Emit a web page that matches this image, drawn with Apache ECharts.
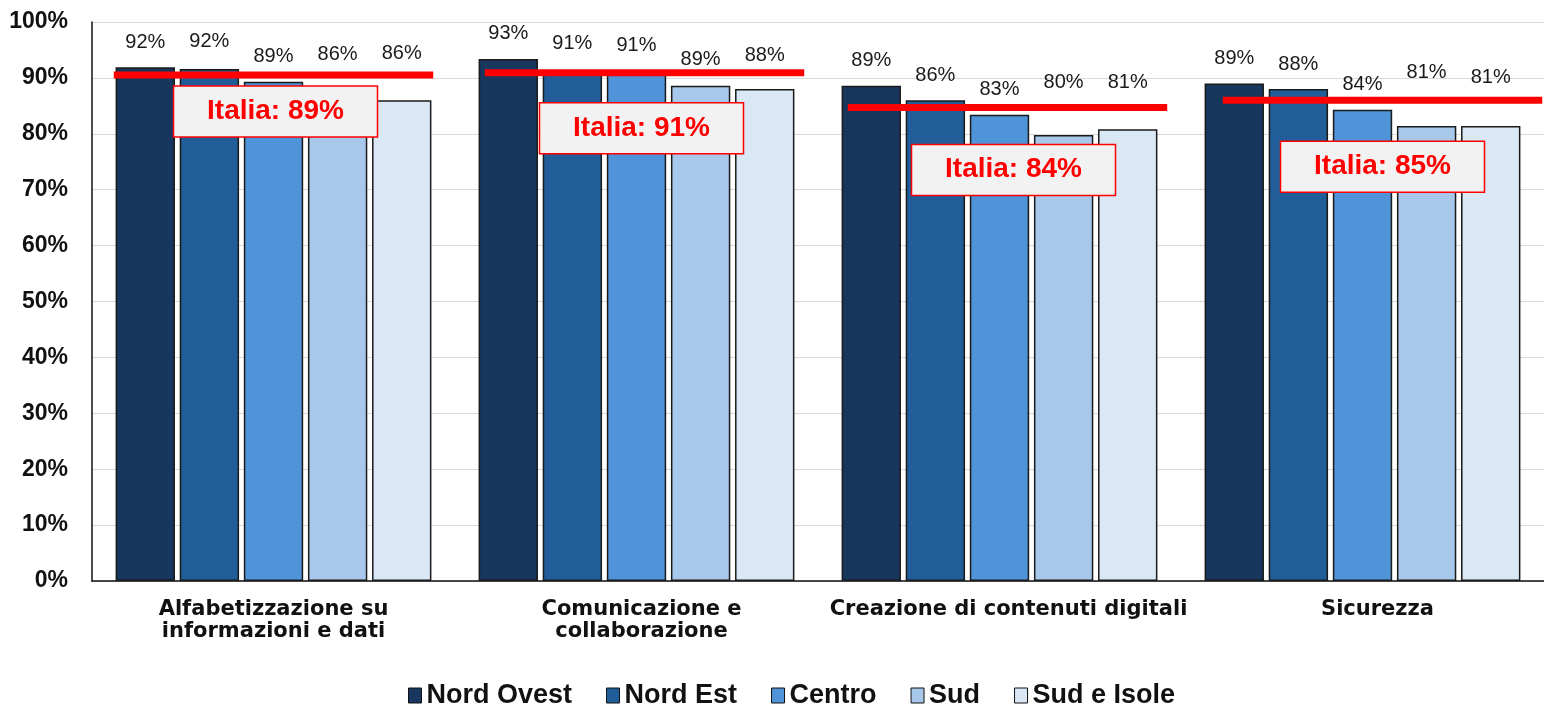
<!DOCTYPE html>
<html>
<head>
<meta charset="utf-8">
<script src="https://cdn.jsdelivr.net/npm/echarts@6/dist/echarts.min.js"></script>
<style>
  html, body { margin: 0; padding: 0; background: #fff; }
  #chart { width: 1544px; height: 709px; }
</style>
</head>
<body>
<div id="chart"></div>
<script>
const categories = [
  'Alfabetizzazione su\ninformazioni e dati',
  'Comunicazione e\ncollaborazione',
  'Creazione di contenuti digitali',
  'Sicurezza'
];
const seriesNames = ['Nord Ovest', 'Nord Est', 'Centro', 'Sud', 'Sud e Isole'];
const nordOvest = [91.9, 93.4, 88.6, 89.0];
const nordEst = [91.6, 91.2, 86.0, 88.0];
const centro = [89.3, 91.0, 83.4, 84.3];
const sud = [86.2, 88.6, 79.8, 81.4];
const sudIsole = [86.0, 88.0, 80.8, 81.4];
// Italia: value printed in the box, and the level where the red line sits
const italia = [89, 91, 84, 85];
const italiaLine = [90.5, 90.9, 84.7, 86.0];
const yTicks = { min: 0, max: 100, interval: 10 };

const colors = ['#17375e', '#215e99', '#4f94d8', '#a7c8ea', '#dae8f6'];
const seriesValues = [nordOvest, nordEst, centro, sud, sudIsole];

// layout tweaks (pixels), kept apart from the data
const labelLift = [
  [0, 0, 0, 0],
  [2, 3, 0, 0],
  [0, 2, 0, 0],
  [20, 1, 27, 28],
  [22, 9, 22, 23]
];
const lineShift = [0, 8, 8, 20];
const boxOffset = [[2, 36], [5, 55], [14, 62], [20, 66]];
const catShift = [0, 5, 9, 15];

const chart = echarts.init(document.getElementById('chart'));

const barSeries = seriesNames.map(function (name, s) {
  return {
    name: name,
    type: 'bar',
    barGap: '8%',
    barCategoryGap: '13%',
    itemStyle: { color: colors[s], borderColor: '#1a1a1a', borderWidth: 1.5 },
    label: {
      show: true,
      position: 'top',
      color: '#1a1a1a',
      fontSize: 20,
      fontFamily: 'Liberation Sans, Arial',
      formatter: function (p) { return Math.round(p.value) + '%'; }
    },
    data: seriesValues[s].map(function (v, i) {
      return { value: v, label: { distance: 15 + labelLift[s][i] } };
    })
  };
});

const italiaSeries = {
  name: 'Italia',
  type: 'custom',
  z: 5,
  clip: false,
  encode: { x: 0, y: 1 },
  data: italiaLine.map(function (v, i) { return [i, v]; }),
  renderItem: function (params, api) {
    const i = params.dataIndex;
    const p = api.coord([api.value(0), api.value(1)]);
    const band = api.size([1, 0])[0];
    const half = band * 0.44;
    const cx = p[0] + lineShift[i];
    const bx = p[0] + boxOffset[i][0];
    const by = p[1] + boxOffset[i][1];
    return {
      type: 'group',
      children: [
        {
          type: 'line',
          shape: { x1: cx - half, y1: p[1], x2: cx + half, y2: p[1] },
          style: { stroke: '#ff0000', lineWidth: 7 }
        },
        {
          type: 'rect',
          shape: { x: bx - 102, y: by - 25, width: 204, height: 51 },
          style: { fill: '#f2f2f2', stroke: '#ff0000', lineWidth: 1.5 }
        },
        {
          type: 'text',
          x: bx,
          y: by,
          style: {
            text: 'Italia: ' + italia[i] + '%',
            fill: '#ff0000',
            font: 'bold 28px "Liberation Sans", Arial',
            align: 'center',
            verticalAlign: 'middle'
          }
        }
      ]
    };
  }
};

const option = {
  animation: false,
  grid: { left: 92, right: 0, top: 22, bottom: 128 },
  legend: {
    data: seriesNames,
    left: 403,
    top: 677,
    icon: 'rect',
    itemWidth: 13,
    itemHeight: 15,
    itemGap: 34,
    textStyle: { fontSize: 27, fontWeight: 'bold', color: '#111', fontFamily: 'Liberation Sans, Arial' },
    itemStyle: { borderColor: '#111', borderWidth: 1 }
  },
  xAxis: {
    type: 'category',
    data: categories.map(function (c, i) {
      return { value: c, textStyle: { padding: [0, 0, 0, 2 * catShift[i]] } };
    }),
    axisLine: { lineStyle: { color: '#111', width: 1.5 } },
    axisTick: { show: false },
    axisLabel: {
      interval: 0,
      margin: 18,
      fontSize: 21,
      fontWeight: 'bold',
      lineHeight: 22,
      color: '#111',
      fontFamily: 'DejaVu Sans'
    }
  },
  yAxis: {
    type: 'value',
    min: yTicks.min,
    max: yTicks.max,
    interval: yTicks.interval,
    axisLine: { show: true, lineStyle: { color: '#111', width: 1.5 } },
    axisTick: { show: false },
    splitLine: { lineStyle: { color: '#d9d9d9', width: 1 } },
    axisLabel: {
      formatter: '{value}%',
      margin: 24,
      fontSize: 23,
      fontWeight: 'bold',
      color: '#111',
      fontFamily: 'Liberation Sans, Arial'
    }
  },
  series: barSeries.concat([italiaSeries])
};

chart.setOption(option);
</script>
</body>
</html>
